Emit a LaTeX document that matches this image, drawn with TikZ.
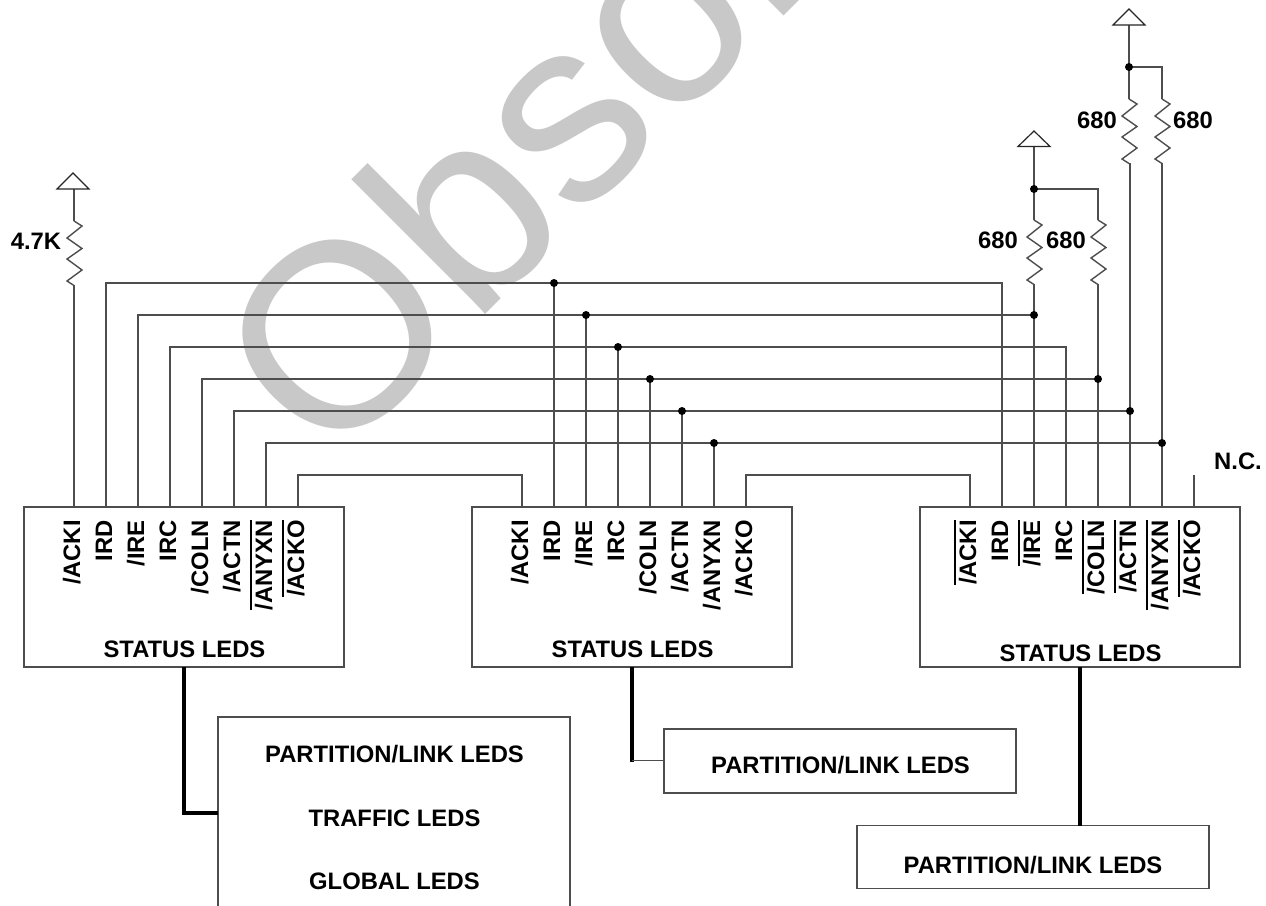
\documentclass[tikz,border=0pt]{standalone}
\usepackage{fontspec}
\setmainfont{Liberation Sans}
\definecolor{wire}{HTML}{4D4D4D}
\definecolor{wmark}{HTML}{C8C8C8}
\newcommand\barred[1]{\setbox0\hbox{#1}\rlap{\rule[20.3pt]{\wd0}{1.3pt}}\box0}
\newcommand\zigpath{-- ++(8,5) -- ++(-15,12) -- ++(15,10.5) -- ++(-15,10.5) -- ++(15,11) -- ++(-15,11) -- ++(7,4.5)}
\tikzset{
  wireline/.style={draw=wire,line width=1.6pt,line cap=butt,line join=miter},
  zigline/.style={draw=wire,line width=1.4pt,line join=miter},
  railsym/.style={draw=black!85,line width=1.2pt,line join=miter,fill=white},
  heavy/.style={draw=black,line width=4pt,line join=miter},
  boxed/.style={draw=wire,line width=1.5pt,rectangle,inner sep=0pt,outer sep=0pt},
  junct/.style={circle,fill=black,inner sep=0pt,minimum size=8pt},
  lbl/.style={font=\bfseries\fontsize{23.8}{26}\selectfont,inner sep=0pt,text=black},
  pinlbl/.style={lbl,rotate=90,anchor=base east},
}
\begin{document}
\begin{tikzpicture}[x=1pt,y=-1pt]
\useasboundingbox (0,0) rectangle (1266,905);
\begin{scope}
\clip (0,0) rectangle (1266,905);
\node[anchor=base west,rotate=45,inner sep=0pt,text=wmark,font=\fontsize{262}{280}\selectfont] (wm) at (329,471) {Obsolete};

% boxes
\node[boxed,minimum width=320pt,minimum height=160pt] (A) at (184,587) {};
\node[boxed,minimum width=320pt,minimum height=160pt] (B) at (632,587) {};
\node[boxed,minimum width=320pt,minimum height=160pt] (C) at (1080,587) {};
\node[boxed,minimum width=352pt,minimum height=300pt] (PA) at (394,867) {};
\node[boxed,minimum width=352pt,minimum height=64pt] (PB) at (840,761) {};
\node[boxed,minimum width=352pt,minimum height=63pt] (PC) at (1033,857) {};

% pins on top of boxes
\foreach \n/\x in {1/74,2/106,3/138,4/170,5/202,6/234,7/266,8/298}{\coordinate (a\n) at (\x,507);}
\foreach \n/\x in {1/522,2/554,3/586,4/618,5/650,6/682,7/714,8/746}{\coordinate (b\n) at (\x,507);}
\foreach \n/\x in {1/970,2/1002,3/1034,4/1066,5/1098,6/1130,7/1162,8/1194}{\coordinate (c\n) at (\x,507);}

% junction points on the buses
\coordinate (j2) at (554,283);
\coordinate (j3) at (586,315);
\coordinate (j4) at (618,347);
\coordinate (j5) at (650,379);
\coordinate (j6) at (682,411);
\coordinate (j7) at (714,443);
\coordinate (k3) at (1034,315);
\coordinate (k5) at (1098,379);
\coordinate (k6) at (1130,411);
\coordinate (k7) at (1162,443);
\coordinate (v1) at (1034,189);
\coordinate (v2) at (1129,67);

% buses
\coordinate (e2) at (1002,283);
\coordinate (e4) at (1066,347);
\draw[wireline] (a2) |- (e2) -- (c2);
\draw[wireline] (a3) |- (k3);
\draw[wireline] (a4) |- (e4) -- (c4);
\draw[wireline] (a5) |- (k5);
\draw[wireline] (a6) |- (k6);
\draw[wireline] (a7) |- (k7);
\draw[wireline] (b2) -- (j2);
\draw[wireline] (b3) -- (j3);
\draw[wireline] (b4) -- (j4);
\draw[wireline] (b5) -- (j5);
\draw[wireline] (b6) -- (j6);
\draw[wireline] (b7) -- (j7);
\draw[wireline] (c3) -- (k3);
\draw[wireline] (c5) -- (k5);
\draw[wireline] (c6) -- (k6);
\draw[wireline] (c7) -- (k7);
% acknowledge chain
\coordinate (ab) at (298,475);
\coordinate (ab2) at (522,475);
\coordinate (bc) at (746,475);
\coordinate (bc2) at (970,475);
\coordinate (nc) at (1194,475);
\draw[wireline] (a8) -- (ab) -- (ab2) -- (b1);
\draw[wireline] (b8) -- (bc) -- (bc2) -- (c1);
\draw[wireline] (c8) -- (nc);

% pull-ups
\coordinate (r1t) at (74,221);
\coordinate (r1b) at (74,285);
\coordinate (t1) at (74,189);
\draw[wireline] (t1) -- (r1t);
\draw[zigline] (r1t) \zigpath;
\draw[wireline] (r1b) -- (a1);
\draw[railsym] (73,173) -- (57,189) -- (89,189) -- cycle;

\coordinate (t2) at (1034,146.5);
\coordinate (r2t) at (1034,220);
\coordinate (r2b) at (1034,284);
\coordinate (r3c) at (1098,189);
\coordinate (r3t) at (1098,220);
\coordinate (r3b) at (1098,284);
\draw[wireline] (t2) -- (r2t);
\draw[wireline] (v1) -- (r3c) -- (r3t);
\draw[zigline] (r2t) \zigpath;
\draw[zigline] (r3t) \zigpath;
\draw[wireline] (r2b) -- (k3);
\draw[wireline] (r3b) -- (k5);
\draw[railsym] (1034,131) -- (1018,146.5) -- (1050,146.5) -- cycle;

\coordinate (t3) at (1129,25);
\coordinate (r4t) at (1129,99);
\coordinate (r4b) at (1130,163);
\coordinate (r5c) at (1162,67);
\coordinate (r5t) at (1162,99);
\coordinate (r5b) at (1162,163);
\draw[wireline] (t3) -- (r4t);
\draw[wireline] (v2) -- (r5c) -- (r5t);
\draw[zigline] (r4t) \zigpath;
\draw[zigline] (r5t) \zigpath;
\draw[wireline] (r4b) -- (k6);
\draw[wireline] (r5b) -- (k7);
\draw[railsym] (1129,9) -- (1113,25) -- (1145,25) -- cycle;

% junction dots, over the wires
\foreach \p in {j2,j3,j4,j5,j6,j7,k3,k5,k6,k7,v1,v2}{\node[junct] (dot\p) at (\p) {};}

% heavy links
\coordinate (ha) at (184,813);
\coordinate (hb) at (632,762);
\draw[heavy] (184,667) -- (ha) -- (PA.west |- ha);
\draw[heavy] (632,667) -- (hb);
\draw[wireline] (632,760.5) -- (PB.west |- 0,760.5);
\draw[heavy] (1080,667) -- (PC.north -| 1080,0);

% pin labels
\node[pinlbl] (la1) at (80,520) {/ACKI};
\node[pinlbl] (la2) at (112,520) {IRD};
\node[pinlbl] (la3) at (144,520) {/IRE};
\node[pinlbl] (la4) at (176,520) {IRC};
\node[pinlbl] (la5) at (208,520) {/COLN};
\node[pinlbl] (la6) at (240,520) {/ACTN};
\node[pinlbl] (la7) at (272,520) {\barred{/ANYXN}};
\node[pinlbl] (la8) at (304,520) {\barred{/ACKO}};
\node[pinlbl] (lb1) at (528,520) {/ACKI};
\node[pinlbl] (lb2) at (560,520) {IRD};
\node[pinlbl] (lb3) at (592,520) {/IRE};
\node[pinlbl] (lb4) at (624,520) {IRC};
\node[pinlbl] (lb5) at (656,520) {/COLN};
\node[pinlbl] (lb6) at (688,520) {/ACTN};
\node[pinlbl] (lb7) at (720,520) {/ANYXN};
\node[pinlbl] (lb8) at (752,520) {/ACKO};
\node[pinlbl] (lc1) at (976,520) {\barred{/ACKI}};
\node[pinlbl] (lc2) at (1008,520) {IRD};
\node[pinlbl] (lc3) at (1040,520) {\barred{/IRE}};
\node[pinlbl] (lc4) at (1072,520) {IRC};
\node[pinlbl] (lc5) at (1104,520) {\barred{/COLN}};
\node[pinlbl] (lc6) at (1136,520) {\barred{/ACTN}};
\node[pinlbl] (lc7) at (1168,520) {\barred{/ANYXN}};
\node[pinlbl] (lc8) at (1200,520) {\barred{/ACKO}};

% labels
\node[lbl] (sa) at (184.5,649.5) {STATUS LEDS};
\node[lbl] (sb) at (632.5,649.5) {STATUS LEDS};
\node[lbl] (sc) at (1080.5,653.5) {STATUS LEDS};
\node[lbl] (p1) at (394.5,754) {PARTITION/LINK LEDS};
\node[lbl] (p2) at (394.5,818) {TRAFFIC LEDS};
\node[lbl] (p3) at (394.5,881.5) {GLOBAL LEDS};
\node[lbl] (p4) at (840.5,765) {PARTITION/LINK LEDS};
\node[lbl] (p5) at (1033,865) {PARTITION/LINK LEDS};
\node[lbl] (ncl) at (1238,461) {N.C.};
\node[lbl] (r1l) at (36,241) {4.7K};
\node[lbl] (r2l) at (998,240) {680};
\node[lbl] (r3l) at (1066,240) {680};
\node[lbl] (r4l) at (1097,120) {680};
\node[lbl] (r5l) at (1193,120) {680};
\end{scope}
\end{tikzpicture}
\end{document}
